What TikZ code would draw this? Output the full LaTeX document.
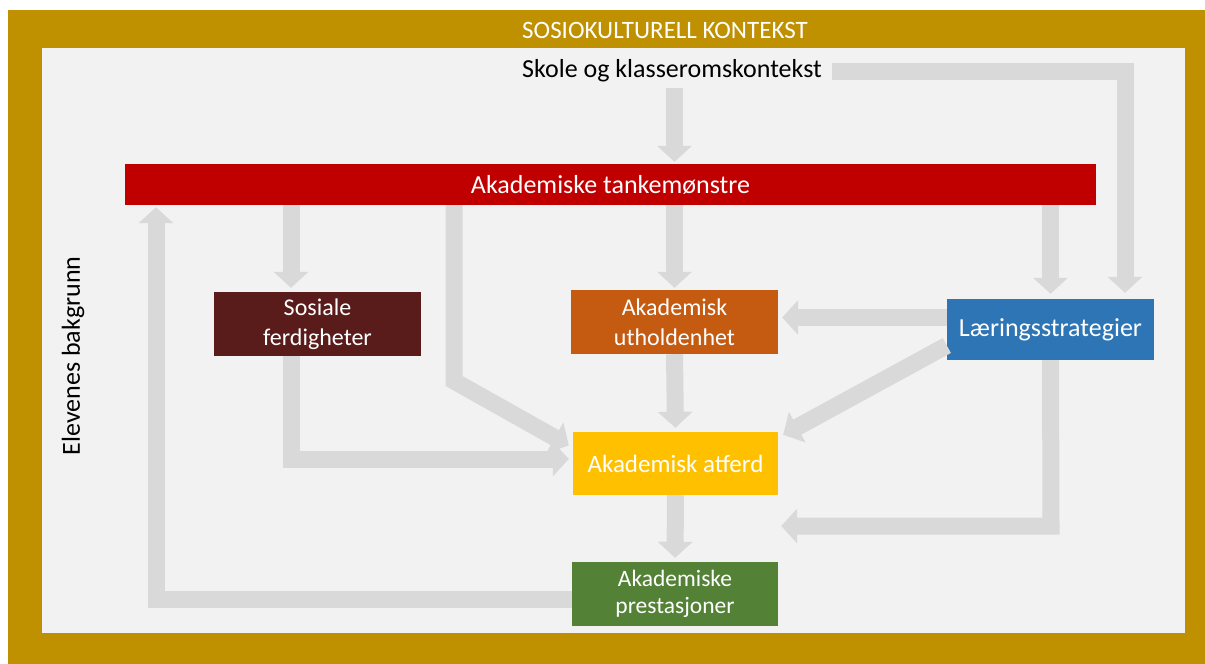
\documentclass[tikz,border=0pt]{standalone}
\usepackage{fontspec}
\setmainfont{Carlito}
\usetikzlibrary{arrows.meta,calc}
\definecolor{goldf}{HTML}{BF9000}
\definecolor{panel}{HTML}{F2F2F2}
\definecolor{arrgray}{HTML}{D9D9D9}
\definecolor{redbar}{HTML}{C00000}
\definecolor{sosc}{HTML}{5A1B1B}
\definecolor{uthc}{HTML}{C55A11}
\definecolor{larc}{HTML}{2E75B6}
\definecolor{atfc}{HTML}{FFC000}
\definecolor{presc}{HTML}{538135}
\begin{document}
\begin{tikzpicture}[x=1pt,y=-1pt,
  box/.style={inner sep=0pt, text=white, align=center, minimum width=207pt, minimum height=64pt, font=\fontsize{24}{30}\selectfont},
  arr/.style={draw=arrgray, line width=17pt, line join=miter, -{Triangle[width=34pt,length=16pt]}},
  lbl/.style={inner sep=2pt, font=\fontsize{26}{30}\selectfont}]
\useasboundingbox (0,0) rectangle (1205,664);
\fill[goldf] (8,10) rectangle (1205,664);
\fill[panel] (42,48) rectangle (1185,633);
\node[lbl, text=white, font=\fontsize{25}{28}\selectfont] (ctx) at (665,30) {SOSIOKULTURELL KONTEKST};
\node[lbl] (skole) at (672,71) {Skole og klasseromskontekst};
\node[lbl, rotate=90] (bak) at (73,356) {Elevenes bakgrunn};
\node[box, fill=redbar, minimum width=971pt, minimum height=41pt, font=\fontsize{26}{30}\selectfont] (red) at (610.5,184.5) {Akademiske tankemønstre};
\node[box, fill=sosc] (sos) at (317.5,324) {Sosiale\\ferdigheter};
\node[box, fill=uthc] (uth) at (674.5,322) {Akademisk\\utholdenhet};
\node[box, fill=larc, minimum height=61pt, font=\fontsize{26}{30}\selectfont] (lar) at (1050.5,329.5) {Læringsstrategier};
\node[box, fill=atfc, minimum width=205pt, minimum height=63pt, font=\fontsize{25}{30}\selectfont] (atf) at (675.5,463.5) {Akademisk atferd};
\node[box, fill=presc, minimum width=206pt, font=\fontsize{23.5}{27}\selectfont] (pres) at (675,594) {Akademiske\\prestasjoner};
% bend points
\coordinate (tr) at (1125,71);
\coordinate (b6) at (454,381);
\coordinate (b7) at (291,459);
\coordinate (b11) at (1051,526);
\coordinate (b13) at (156,599);
% connectors
\draw[arr, shorten <=4pt, shorten >=2pt] (uth.center |- skole.south) -- (uth.center |- red.north);
\draw[arr, shorten <=8pt] (skole.east) -- (tr) -- ($(tr |- lar.north)+(0,-6)$);
\draw[arr, shorten >=4pt] (b7 |- red.south) -- (b7 |- sos.north);
\draw[arr, shorten >=2pt] (uth.north |- red.south) -- (uth.north);
\draw[arr, shorten >=5pt] (lar.north |- red.south) -- (lar.north);
\draw[arr] (b6 |- red.south) -- (b6) -- ($(atf.west)+(-4,-18)$);
\draw[arr] (b7 |- sos.south) -- (b7) -- ($(b7 -| atf.west)+(-4,0)$);
\draw[arr, shorten >=4pt] (uth.south) -- (atf.north);
\draw[arr, shorten >=4pt] ($(lar.west)+(0,-12)$) -- ($(lar.west -| uth.east)+(0,-12)$);
\draw[arr] ($(lar.west)+(0,16)$) -- ($(atf.north east)+(5,3)$);
\draw[arr] (lar.south) -- (b11) -- ($(b11 -| atf.east)+(3,0)$);
\draw[arr, shorten >=4pt] (atf.south) -- (pres.north);
\draw[arr] (b13 -| pres.west) -- (b13) -- ($(b13 |- red.south)+(0,2)$);
\end{tikzpicture}
\end{document}
